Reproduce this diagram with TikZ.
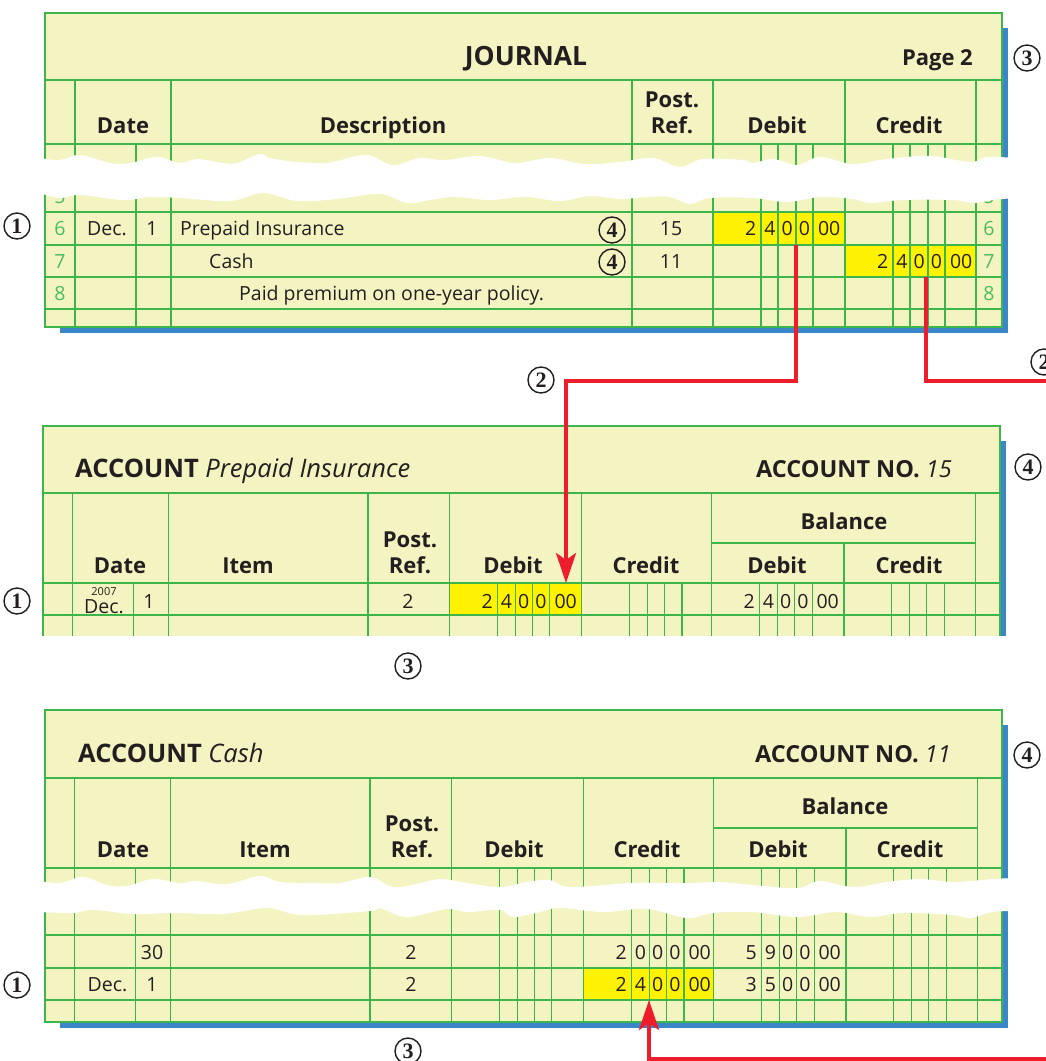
\documentclass[tikz,border=0pt]{standalone}
\usepackage{fontspec}
\newfontfamily\tabfont{Open Sans}
\newfontfamily\circfont{Liberation Serif}
\usetikzlibrary{arrows.meta}
\definecolor{sheet}{HTML}{F3F4C1}
\definecolor{rulegreen}{HTML}{3DB54A}
\definecolor{numgreen}{HTML}{4DBB5F}
\definecolor{shadowblue}{HTML}{3B86C8}
\definecolor{marker}{HTML}{FFF200}
\definecolor{postred}{HTML}{EE1D2B}
\definecolor{ink}{HTML}{231F20}
% digits of an amount, one per ruled column
\newcommand{\amt}[5]{\makebox[43pt][r]{#1}\hspace{5pt}\makebox[17.33pt]{#2}\makebox[17.33pt]{#3}\makebox[17.33pt]{#4}\makebox[32pt]{#5}}

\begin{document}
\begin{tikzpicture}[
    x=1pt, y=-1pt,
    paper/.style={fill=sheet},
    ruling/.style={draw=rulegreen, line width=1.6pt},
    backing/.style={fill=shadowblue},
    hilite/.style={fill=marker},
    tear/.style={fill=white},
    head/.style={font=\tabfont\bfseries\fontsize{22}{26}\selectfont, text=ink, anchor=base, inner sep=0pt},
    heading/.style={head, font=\tabfont\bfseries\fontsize{26.5}{30}\selectfont},
    acct/.style={font=\tabfont\fontsize{23.5}{27}\selectfont, text=ink, inner sep=0pt},
    entry/.style={font=\tabfont\fontsize{19.5}{23}\selectfont, text=ink, anchor=base, inner sep=0pt},
    lineno/.style={entry, text=numgreen},
    money/.style={entry, anchor=base west},
    callout/.style={circle, draw=ink, line width=1.4pt, minimum size=26pt, inner sep=0pt, text=ink, font=\circfont\bfseries\fontsize{22}{22}\selectfont},
    flow/.style={draw=postred, line width=4pt},
    posttip/.style={-{Stealth[length=30pt, width=20pt, inset=7pt]}}
]
\useasboundingbox (0,0) rectangle (1046,1061);
\clip (0,0) rectangle (1046,1061);

% Journal
\fill[backing] (60,28) rectangle (1008,333);
\fill[paper] (45,13) rectangle (1002,327);
\fill[hilite] (713,212) rectangle (845,245);
\fill[hilite] (845,245) rectangle (976,277);
\foreach \y in {80,144,180,212,245,277,309}
    \draw[ruling] (45,\y) -- (1002,\y);
\foreach \x in {75,171,632,713,845,976}
    \draw[ruling] (\x,80) -- (\x,327);
\foreach \x in {136,761,778,796,813,893,910,928,945}
    \draw[ruling] (\x,144) -- (\x,327);
\draw[ruling] (45,13) rectangle (1002,327);

\node[heading] (jtitle) at (526,65) {JOURNAL};
\node[head, anchor=base east] (jpage) at (973,65) {Page 2};
\node[head] (jdate) at (123,133) {Date};
\node[head] (jdesc) at (383,133) {Description};
\node[head] (jpost) at (672,107) {Post.};
\node[head] (jref) at (672,133) {Ref.};
\node[head] (jdebit) at (777,133) {Debit};
\node[head] (jcredit) at (909,133) {Credit};

\foreach \n/\y in {5/203,6/235.5,7/268,8/300} {
    \node[lineno] (jl\n) at (60,\y) {\n};
    \node[lineno] (jr\n) at (989,\y) {\n};
}
\node[entry] (jmonth) at (107,235.5) {Dec.};
\node[entry] (jday) at (152,235.5) {1};
\node[entry, anchor=base west] (jacct6) at (180,235.5) {Prepaid Insurance};
\node[entry, anchor=base west] (jacct7) at (209,268) {Cash};
\node[entry, anchor=base west] (jexpl) at (239,300) {Paid premium on one-year policy.};
\node[entry] (jref6) at (671,235.5) {15};
\node[entry] (jref7) at (671,268) {11};
\node[money] (jamt6) at (713,235.5) {\amt{2}{4}{0}{0}{00}};
\node[money] (jamt7) at (845,268) {\amt{2}{4}{0}{0}{00}};

\fill[tear] plot[smooth, tension=0.6] coordinates {(40,158) (60,160) (80,155) (110,163) (130,163) (157,157) (180,163) (197,159) (223,163) (237,163) (260,154) (270,158) (297,162) (325,163) (337,161) (367,155) (393,165) (420,158) (445,160) (480,156) (515,163) (550,158) (585,164) (620,162) (653,158) (680,167) (703,159) (743,160) (753,163) (773,159) (797,165) (820,157) (853,164) (887,159) (930,156) (970,162) (987,157) (1015,158)}
    -- plot[smooth, tension=0.6] coordinates {(1015,198) (993,200) (973,203) (953,200) (903,200) (870,203) (853,199) (820,197) (787,202) (753,198) (710,198) (690,204) (670,197) (647,197) (620,199) (590,196) (560,201) (525,197) (490,200) (455,197) (430,200) (407,203) (380,194) (337,199) (297,201) (263,193) (230,201) (180,198) (150,197) (123,200) (80,195) (60,198) (40,193)} -- cycle;

% Account: Prepaid Insurance
\fill[backing] (1000,441) rectangle (1006,636);
\fill[paper] (43,426) rectangle (1000,636);
\fill[hilite] (449.5,583) rectangle (581.5,615);
\foreach \y in {493,583,615}
    \draw[ruling] (43,\y) -- (1000,\y);
\begin{scope}[xshift=43pt]
\draw[ruling] (668.5,543) -- (932.5,543);
\foreach \x in {29.5,125.5,325,406.5,538.5,668.5,932.5}
    \draw[ruling] (\x,493) -- (\x,636);
\draw[ruling] (801,543) -- (801,636);
\foreach \x in {90.5,454.5,472.5,489.5,506.5,586.5,604.5,621.5,639,716.5,734.5,751.5,769.5,848.5,866.5,883.5,901.5}
    \draw[ruling] (\x,583) -- (\x,636);
\end{scope}
\draw[ruling] (43,636) -- (43,426) -- (1000,426) -- (1000,636);

\node[acct, anchor=base west, font=\tabfont\fontsize{25.5}{29}\selectfont] (ptitle) at (75,477.5) {\textbf{ACCOUNT} \textit{Prepaid Insurance}};
\node[acct, anchor=base east] (pno) at (952,477.5) {\textbf{ACCOUNT NO.} \textit{15}};
\node[head] (pdate) at (120,573) {Date};
\node[head] (pitem) at (248,573) {Item};
\node[head] (ppost) at (410,547) {Post.};
\node[head] (pref) at (410,573) {Ref.};
\node[head] (pdebit) at (513,573) {Debit};
\node[head] (pcredit) at (646,573) {Credit};
\node[head] (pbal) at (844,529) {Balance};
\node[head] (pbdebit) at (777,573) {Debit};
\node[head] (pbcredit) at (909,573) {Credit};

\node[entry, font=\tabfont\fontsize{11}{13}\selectfont] (pyear) at (104,595) {2007};
\node[entry] (pmonth) at (104,613) {Dec.};
\node[entry] (pday) at (149,608) {1};
\node[entry] (ppr) at (408,608) {2};
\node[money] (pamt) at (449.5,608) {\amt{2}{4}{0}{0}{00}};
\node[money] (pbamt) at (711.5,608) {\amt{2}{4}{0}{0}{00}};

% Account: Cash
\fill[backing] (60,725) rectangle (1008,1028);
\fill[paper] (45,710) rectangle (1002,1022);
\fill[hilite] (583.5,968) rectangle (713.5,1000);
\foreach \y in {778,868,903,935,968,1000}
    \draw[ruling] (45,\y) -- (1002,\y);
\begin{scope}[xshift=45pt]
\draw[ruling] (668.5,828) -- (932.5,828);
\foreach \x in {29.5,125.5,325,406.5,538.5,668.5,932.5}
    \draw[ruling] (\x,778) -- (\x,1022);
\draw[ruling] (801,828) -- (801,1022);
\foreach \x in {90.5,454.5,472.5,489.5,506.5,586.5,604.5,621.5,639,716.5,734.5,751.5,769.5,848.5,866.5,883.5,901.5}
    \draw[ruling] (\x,868) -- (\x,1022);
\end{scope}
\draw[ruling] (45,710) rectangle (1002,1022);

\node[acct, anchor=base west, font=\tabfont\fontsize{25.5}{29}\selectfont] (ctitle) at (78,762.5) {\textbf{ACCOUNT} \textit{Cash}};
\node[acct, anchor=base east] (cno) at (951,762.5) {\textbf{ACCOUNT NO.} \textit{11}};
\node[head] (cdate) at (123,857.5) {Date};
\node[head] (citem) at (265,857.5) {Item};
\node[head] (cpost) at (412,831.5) {Post.};
\node[head] (cref) at (412,857.5) {Ref.};
\node[head] (cdebit) at (514,857.5) {Debit};
\node[head] (ccredit) at (647,857.5) {Credit};
\node[head] (cbal) at (845,814) {Balance};
\node[head] (cbdebit) at (778,857.5) {Debit};
\node[head] (cbcredit) at (910,857.5) {Credit};

\node[entry] (cday30) at (152,959) {30};
\node[entry] (cpr30) at (411,959) {2};
\node[money] (camt30) at (583.5,959) {\amt{2}{0}{0}{0}{00}};
\node[money] (cbamt30) at (713.5,959) {\amt{5}{9}{0}{0}{00}};
\node[entry] (cmonth) at (107.5,991.5) {Dec.};
\node[entry] (cday1) at (152,991.5) {1};
\node[entry] (cpr1) at (411,991.5) {2};
\node[money] (camt1) at (583.5,991.5) {\amt{2}{4}{0}{0}{00}};
\node[money] (cbamt1) at (713.5,991.5) {\amt{3}{5}{0}{0}{00}};

\fill[tear] plot[smooth, tension=0.6] coordinates {(40,881) (60,883) (83,877) (107,885) (127,886) (153,879) (180,883) (197,881) (227,884) (260,876) (280,882) (317,883) (340,883) (370,877) (393,887) (417,884) (440,879) (467,883) (500,887) (527,882) (550,880) (570,887) (630,883) (660,883) (693,883) (720,882) (753,885) (797,888) (820,881) (853,887) (887,882) (920,879) (953,882) (993,879) (1015,878)}
    -- plot[smooth, tension=0.6] coordinates {(1015,911) (993,912) (970,918) (953,915) (903,913) (870,917) (837,912) (797,917) (753,912) (713,913) (687,918) (647,909) (603,912) (560,908) (540,912) (513,917) (500,910) (467,912) (447,909) (407,917) (380,908) (370,911) (303,915) (267,908) (223,914) (173,913) (133,914) (93,910) (73,913) (40,912)} -- cycle;

% Callouts
\node[callout] (j1) at (17,226) {1};
\node[callout] (j3) at (1027,58) {3};
\node[callout] (j4a) at (612,230) {4};
\node[callout] (j4b) at (612,262) {4};
\node[callout] (s2a) at (541,380) {2};
\node[callout] (s2b) at (1044,362) {2};
\node[callout] (p1) at (17,601) {1};
\node[callout] (p3) at (408,666) {3};
\node[callout] (p4) at (1028,467) {4};
\node[callout] (c1) at (17,985) {1};
\node[callout] (c3) at (408,1051) {3};
\node[callout] (c4) at (1027,755) {4};

% Posting arrows
\coordinate (dfrom) at (796,245);
\coordinate (dto) at (566,583);
\coordinate (cfrom) at (926,277);
\coordinate (cexit) at (1052,381);
\coordinate (centry) at (1052,1059);
\coordinate (cto) at (649,1000);
\draw[flow, posttip] (dfrom) -- ++(0,136) -| (dto);
\draw[flow] (cfrom) |- (cexit);
\draw[flow, posttip] (centry) -| (cto);

\end{tikzpicture}
\end{document}
